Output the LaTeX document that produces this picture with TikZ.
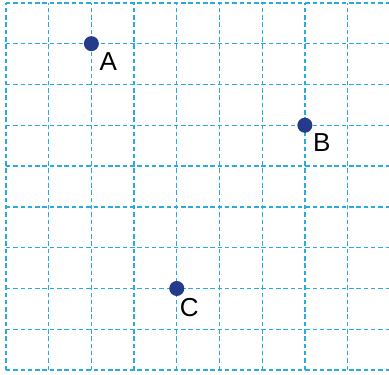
\documentclass[tikz,border=0pt]{standalone}
\usepackage{fontspec}
\setmainfont{Liberation Sans}
\definecolor{gridcyan}{HTML}{29ABE2}
\definecolor{dotblue}{HTML}{243A8A}
\begin{document}
\begin{tikzpicture}
  [x=42.7pt, y=40.8pt,
   gridline/.style={draw=gridcyan, line width=1.3pt, dash pattern=on 4.5pt off 2.8pt},
   point/.style={circle, fill=dotblue, inner sep=0pt, minimum size=15pt},
   tag/.style={anchor=north west, inner sep=0pt, font=\fontsize{26}{26}\selectfont}]

  \useasboundingbox (-0.14,-0.1) rectangle (8.97,9.07);

  \foreach \x in {0,...,8}
    \draw[gridline] (\x,0) -- (\x,9);
  \foreach \y in {0,...,9}
    \draw[gridline] (0,\y) -- (8.97,\y);

  \node[point] (A) at (2,8) {};
  \node[point] (B) at (7,6) {};
  \node[point] (C) at (4,2) {};

  \node[tag] (tagA) at ([shift={(8pt,-9pt)}]A.center) {A};
  \node[tag] (tagB) at ([shift={(8pt,-8pt)}]B.center) {B};
  \node[tag] (tagC) at ([shift={(3pt,-10pt)}]C.center) {C};
\end{tikzpicture}
\end{document}
